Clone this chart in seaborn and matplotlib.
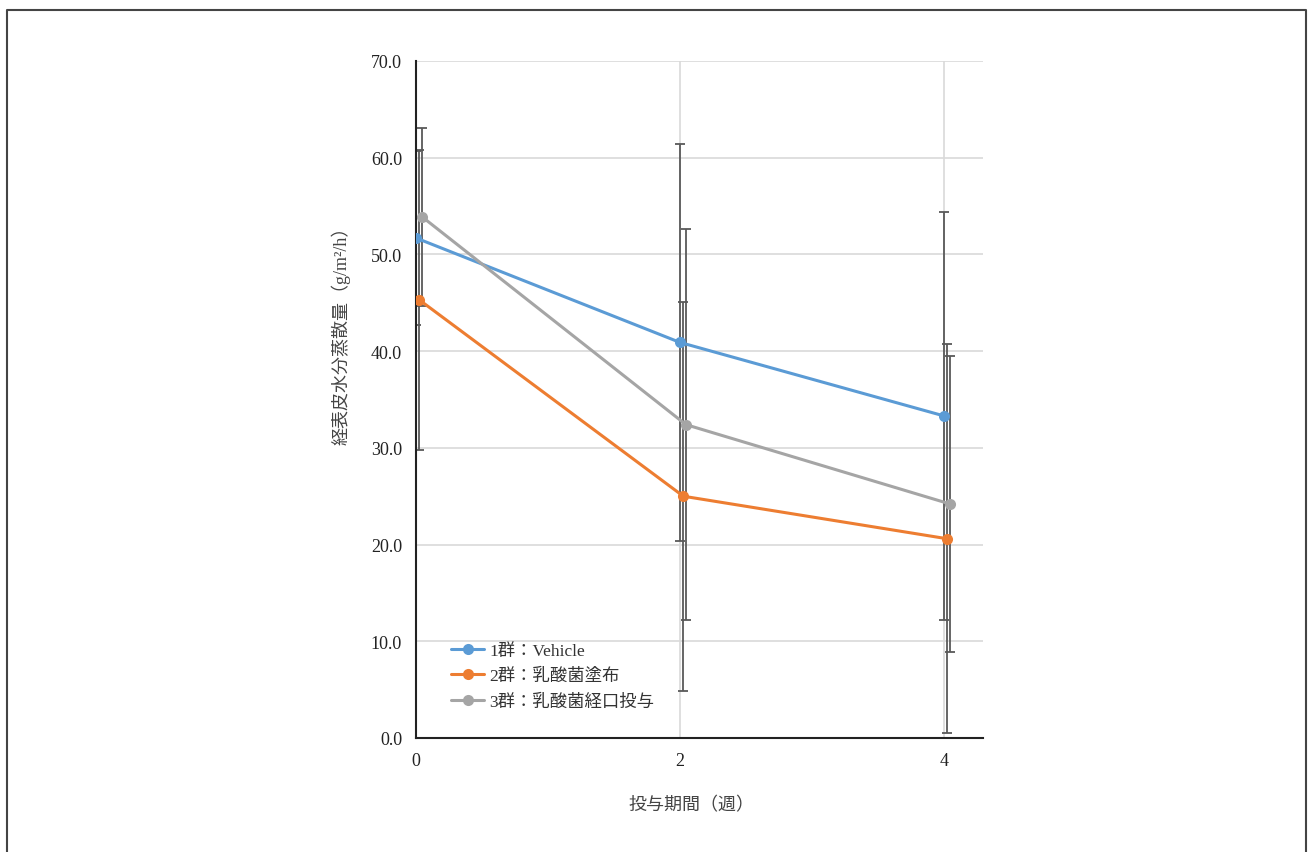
import matplotlib
matplotlib.use('Agg')
import matplotlib.pyplot as plt
import seaborn as sns
import pandas as pd
from matplotlib.lines import Line2D

weeks = [0, 2, 4]
groups = ['1群：Vehicle', '2群：乳酸菌塗布', '3群：乳酸菌経口投与']
offsets = [0.0, 0.025, 0.045]
colors = ['#5B9BD5', '#ED7D31', '#A5A5A5']

g1_mean = [51.7, 40.9, 33.3]
g1_sd = [9.0, 20.5, 21.1]
g2_mean = [45.3, 25.0, 20.6]
g2_sd = [15.5, 20.1, 20.1]
g3_mean = [53.9, 32.4, 24.2]
g3_sd = [9.2, 20.2, 15.3]

yticks = [0, 10, 20, 30, 40, 50, 60, 70]
ylabel = '経表皮水分蒸散量（g/m²/h）'
xlabel = '投与期間（週）'

means = [g1_mean, g2_mean, g3_mean]
sds = [g1_sd, g2_sd, g3_sd]
rows = []
for gi, g in enumerate(groups):
    for wi, w in enumerate(weeks):
        rows.append({'group': g, 'x': w + offsets[gi], 'mean': means[gi][wi], 'sd': sds[gi][wi]})
df = pd.DataFrame(rows)

sns.set_style('white')
plt.rcParams['font.family'] = ['Liberation Serif', 'Noto Sans CJK JP']

fig = plt.figure(figsize=(13.09, 8.53), dpi=100)
ax = fig.add_axes([416/1309, 1-739/853, (983-416)/1309, (739-62)/853])

# error bars first (drawn under lines)
for g in groups:
    d = df[df.group == g]
    ax.errorbar(d['x'], d['mean'], yerr=d['sd'], fmt='none', ecolor='#595959',
                elinewidth=1.3, capsize=3.5, capthick=1.3, zorder=2)

sns.lineplot(data=df, x='x', y='mean', hue='group', hue_order=groups, palette=colors,
             marker='o', markersize=8, markeredgewidth=0, linewidth=2.2, ax=ax,
             legend=False, zorder=3, estimator=None, sort=True)

ax.set_xlim(0, 4.295)
ax.set_ylim(0, 70)
ax.set_xticks(weeks)
ax.set_xticklabels([str(w) for w in weeks])
ax.set_yticks(yticks)
ax.set_yticklabels([f'{v:.1f}' for v in yticks])
ax.grid(True, color='#d9d9d9', linewidth=1.2)
ax.set_axisbelow(True)
for s in ['top', 'right']:
    ax.spines[s].set_visible(False)
for s in ['left', 'bottom']:
    ax.spines[s].set_color('#222222')
    ax.spines[s].set_linewidth(1.5)
ax.tick_params(axis='both', length=0, labelsize=13, colors='#222222')
ax.tick_params(axis='y', pad=10)
ax.tick_params(axis='x', pad=10)

ax.set_ylabel(ylabel, fontsize=13, color='#444444')
ax.yaxis.set_label_coords(-0.116, 0.602)
ax.set_xlabel(xlabel, fontsize=13, color='#444444', family=['Noto Sans CJK JP'])
ax.xaxis.set_label_coords(0.485, -0.085)

handles = [Line2D([0], [0], color=c, lw=2.2, marker='o', markersize=8, markeredgewidth=0) for c in colors]
leg = ax.legend(handles, groups, loc='lower left', bbox_to_anchor=(0.035, 0.018), frameon=False,
                fontsize=12.5, handlelength=1.9, handletextpad=0.3, labelspacing=0.55)
for t in leg.get_texts():
    t.set_color('#333333')

# outer frame (top, left, right)
fig.add_artist(Line2D([7/1309, 7/1309, 1306/1309, 1306/1309], [0, 1-10.5/853, 1-10.5/853, 0],
                      transform=fig.transFigure, color='#444444', lw=1.5))

fig.savefig('out.png', dpi=100)
